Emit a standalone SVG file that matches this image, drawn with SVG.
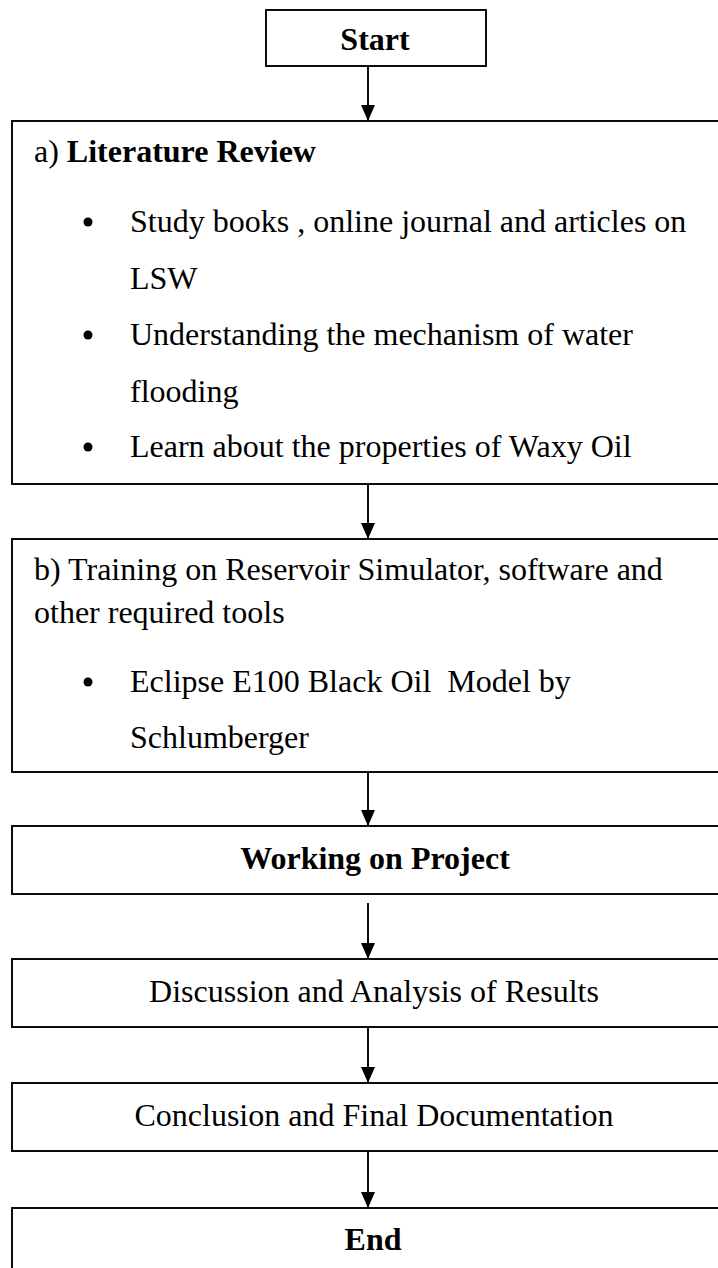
<svg xmlns="http://www.w3.org/2000/svg" width="718" height="1268" viewBox="0 0 718 1268">
<style>
.box{fill:#fff;stroke:#000;stroke-width:1.9}
.t{font-family:"Liberation Serif","Times New Roman",serif;font-size:32px;fill:#000}
.b{font-weight:bold}
.c{text-anchor:middle}
.conn line{stroke:#000;stroke-width:1.9}
.dot{fill:#000}
</style>
<defs>
<marker id="ah" viewBox="0 0 16 14" refX="16" refY="7" markerWidth="16" markerHeight="14" markerUnits="userSpaceOnUse" orient="auto">
<path d="M0,0 L16,7 L0,14 Z" fill="#000"/>
</marker>
</defs>
<rect width="718" height="1268" fill="#fff"/>
<g id="start">
<rect class="box" x="266" y="10" width="220" height="56"/>
<text class="t b c" x="375" y="50">Start</text>
</g>
<g id="literature">
<rect class="box" x="12" y="121" width="730" height="363"/>
<text class="t" x="34" y="162">a) <tspan class="b">Literature Review</tspan></text>
<circle class="dot" cx="88" cy="222" r="4.5"/>
<text class="t" x="130" y="232">Study books , online journal and articles on</text>
<text class="t" x="130" y="289">LSW</text>
<circle class="dot" cx="88" cy="335" r="4.5"/>
<text class="t" x="130" y="345">Understanding the mechanism of water</text>
<text class="t" x="130" y="402">flooding</text>
<circle class="dot" cx="88" cy="447" r="4.5"/>
<text class="t" x="130" y="457">Learn about the properties of Waxy Oil</text>
</g>
<g id="training">
<rect class="box" x="12" y="539" width="730" height="233"/>
<text class="t" x="34" y="580">b) Training on Reservoir Simulator, software and</text>
<text class="t" x="34" y="623">other required tools</text>
<circle class="dot" cx="88" cy="682" r="4.5"/>
<text class="t" x="130" y="692" xml:space="preserve">Eclipse E100 Black Oil  Model by</text>
<text class="t" x="130" y="748">Schlumberger</text>
</g>
<g id="working">
<rect class="box" x="12" y="826" width="730" height="68"/>
<text class="t b c" x="375" y="869">Working on Project</text>
</g>
<g id="discussion">
<rect class="box" x="12" y="959" width="730" height="68"/>
<text class="t c" x="374" y="1002">Discussion and Analysis of Results</text>
</g>
<g id="conclusion">
<rect class="box" x="12" y="1083" width="730" height="68"/>
<text class="t c" x="374" y="1126">Conclusion and Final Documentation</text>
</g>
<g id="end">
<rect class="box" x="12" y="1208" width="730" height="80"/>
<text class="t b c" x="373" y="1250">End</text>
</g>
<g id="connectors" class="conn">
<line x1="368" y1="66" x2="368" y2="121" marker-end="url(#ah)"/>
<line x1="368" y1="484" x2="368" y2="539" marker-end="url(#ah)"/>
<line x1="368" y1="772" x2="368" y2="826" marker-end="url(#ah)"/>
<line x1="368" y1="903" x2="368" y2="959" marker-end="url(#ah)"/>
<line x1="368" y1="1027" x2="368" y2="1083" marker-end="url(#ah)"/>
<line x1="368" y1="1151" x2="368" y2="1208" marker-end="url(#ah)"/>
</g>
</svg>
